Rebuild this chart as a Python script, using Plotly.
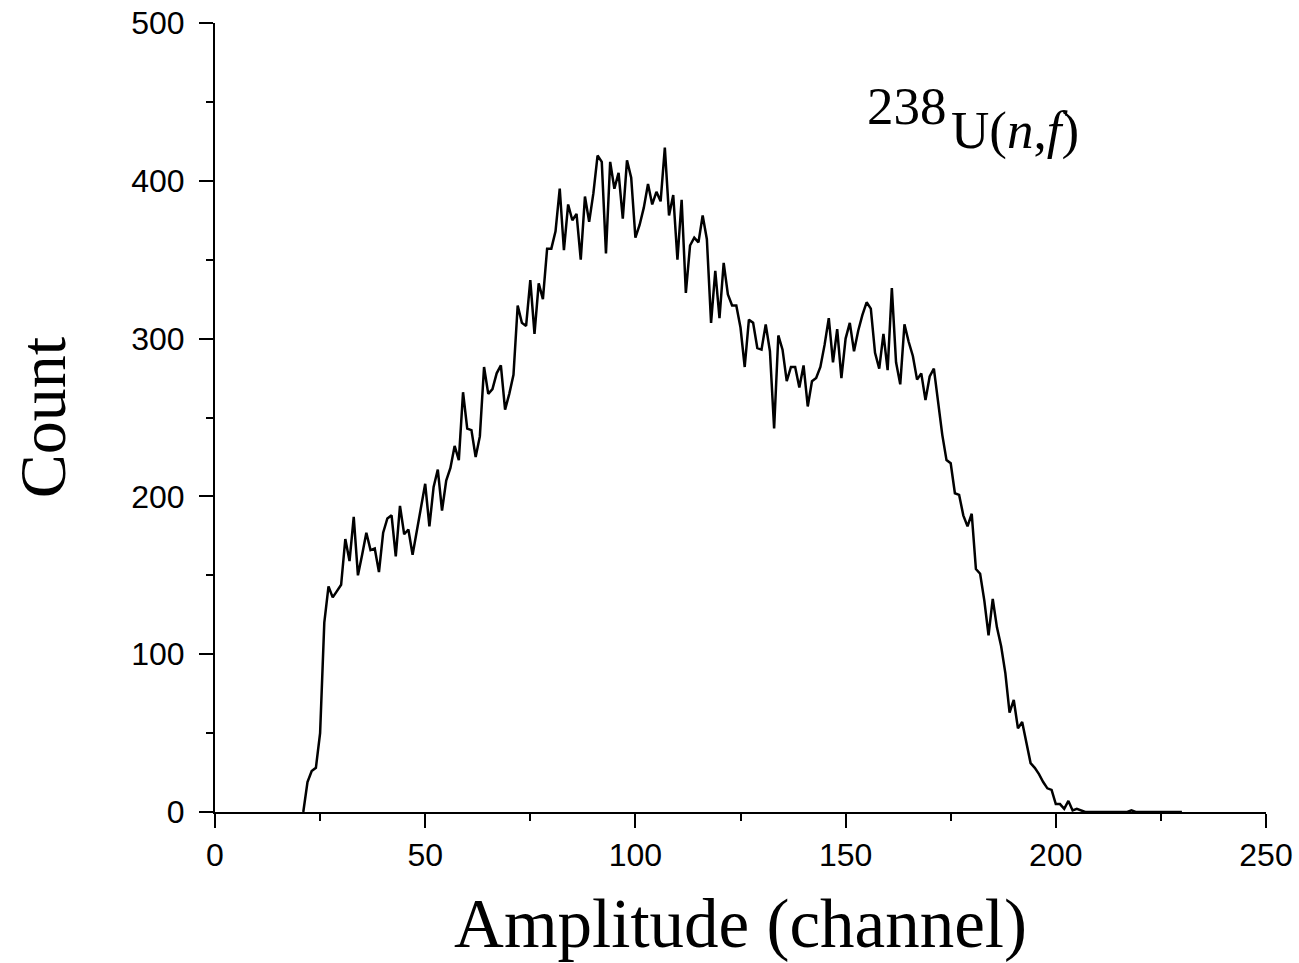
import plotly.graph_objects as go

channels = list(range(21, 231))
counts = [
    0, 19, 26, 28, 50, 120, 143, 136, 140, 144,          # 21-30
    173, 159, 187, 150, 163, 177, 166, 167, 152, 177,    # 31-40
    186, 188, 162, 194, 176, 179, 163, 178, 193, 208,    # 41-50
    181, 206, 217, 191, 210, 218, 232, 223, 266, 243,    # 51-60
    242, 225, 238, 282, 265, 268, 278, 283, 255, 265,    # 61-70
    277, 321, 310, 308, 337, 303, 335, 325, 357, 357,    # 71-80
    368, 395, 356, 385, 375, 379, 350, 390, 374, 392,    # 81-90
    416, 412, 354, 412, 395, 405, 376, 413, 402, 364,    # 91-100
    372, 383, 398, 385, 393, 387, 421, 378, 391, 350,    # 101-110
    388, 329, 359, 364, 361, 378, 363, 310, 343, 313,    # 111-120
    348, 328, 321, 321, 307, 282, 312, 310, 294, 293,    # 121-130
    309, 292, 243, 302, 293, 273, 282, 282, 269, 283,    # 131-140
    257, 273, 275, 282, 296, 313, 285, 306, 275, 300,    # 141-150
    310, 292, 305, 315, 323, 319, 291, 281, 303, 280,    # 151-160
    332, 285, 271, 309, 298, 289, 274, 278, 261, 276,    # 161-170
    281, 259, 239, 223, 221, 202, 201, 188, 181, 189,    # 171-180
    154, 151, 134, 112, 135, 117, 105, 88, 63, 71,       # 181-190
    53, 57, 44, 31, 28, 24, 19, 15, 14, 5,               # 191-200
    5, 2, 7, 1, 2, 1, 0, 0, 0, 0,                        # 201-210
    0, 0, 0, 0, 0, 0, 0, 1, 0, 0,                        # 211-220
    0, 0, 0, 0, 0, 0, 0, 0, 0, 0,                        # 221-230
]

x_ticks = [0, 50, 100, 150, 200, 250]
y_ticks = [0, 100, 200, 300, 400, 500]

sans = "Liberation Sans, Arial, sans-serif"
serif = "Liberation Serif, Times New Roman, serif"

fig = go.Figure()
fig.add_trace(go.Scatter(
    x=channels, y=counts, mode="lines",
    line=dict(color="black", width=2.5),
    showlegend=False,
))

axis_common = dict(
    showgrid=False, zeroline=False, showline=True,
    linecolor="black", linewidth=2,
    ticks="outside", ticklen=14, tickwidth=2, tickcolor="black",
    tickfont=dict(family=sans, size=32, color="black"),
    ticklabeloverflow="allow",
    automargin=False,
)

fig.update_xaxes(
    range=[0, 250], tickvals=x_ticks,
    minor=dict(ticks="outside", ticklen=7, tickwidth=2, tickcolor="black", dtick=25, tick0=0),
    ticklabelstandoff=0,
    title=dict(text="Amplitude (channel)",
               font=dict(family=serif, size=69, color="black"),
               standoff=26),
    **axis_common,
)
fig.update_yaxes(
    range=[0, 500], tickvals=y_ticks,
    minor=dict(ticks="outside", ticklen=7, tickwidth=2, tickcolor="black", dtick=50, tick0=0),
    ticklabelstandoff=8,
    title=dict(text="Count",
               font=dict(family=serif, size=66, color="black"),
               standoff=44),
    **axis_common,
)

fig.add_annotation(x=0.698, y=0.895, xref="paper", yref="paper", text="238",
                   showarrow=False, xanchor="right", yanchor="middle",
                   font=dict(family=serif, size=53, color="black"))
fig.add_annotation(x=0.698, y=0.864, xref="paper", yref="paper",
                   text="U(<i>n</i>,<i>f</i>)",
                   showarrow=False, xanchor="left", yanchor="middle",
                   font=dict(family=serif, size=53, color="black"))

fig.update_layout(
    width=1299, height=963,
    margin=dict(l=215, r=33, t=23, b=151),
    paper_bgcolor="white", plot_bgcolor="white",
)

# remove the default 8px page margin so the figure fills the window exactly
fig.write_html("out.html", config={"displayModeBar": False},
               post_script="document.body.style.margin='0';")
